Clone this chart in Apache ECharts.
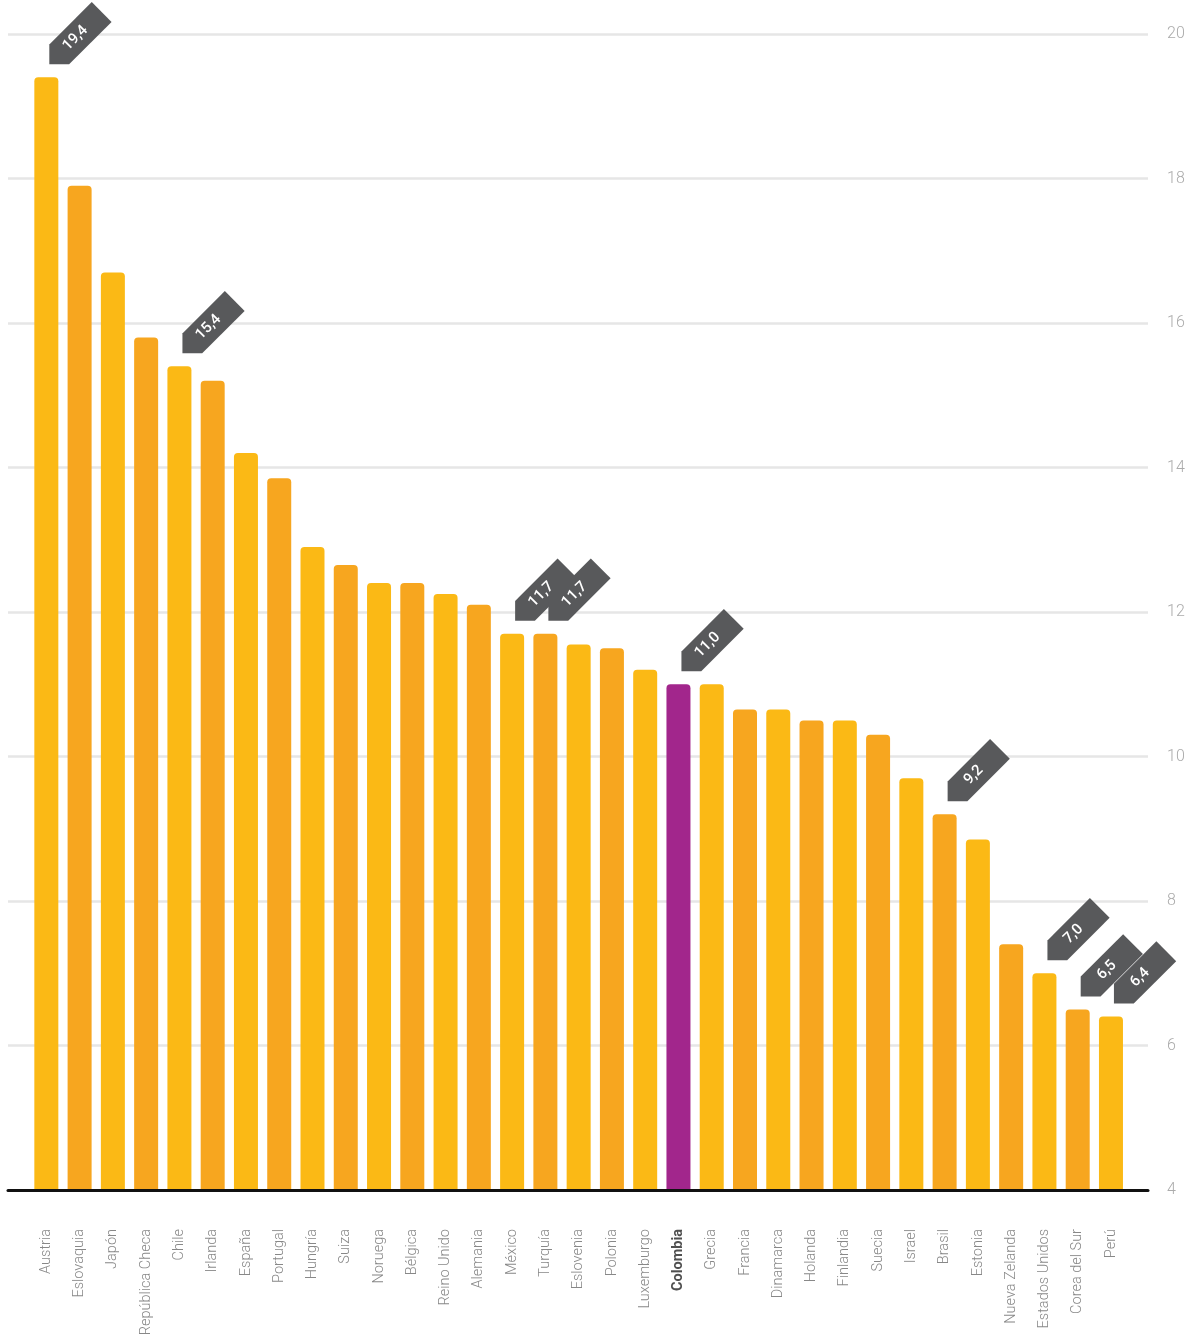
<!DOCTYPE html>
<html>
<head>
<meta charset="utf-8">
<script src="https://cdn.jsdelivr.net/npm/echarts@6/dist/echarts.min.js"></script>
<style>
  html, body { margin: 0; padding: 0; background: #ffffff; }
  #chart { width: 1196px; height: 1334px; }
</style>
</head>
<body>
<div id="chart"></div>
<script>
// Países ordenados de mayor a menor
const countries = [
  'Austria', 'Eslovaquia', 'Japón', 'República Checa', 'Chile', 'Irlanda',
  'España', 'Portugal', 'Hungría', 'Suiza', 'Noruega', 'Bélgica',
  'Reino Unido', 'Alemania', 'México', 'Turquía', 'Eslovenia', 'Polonia',
  'Luxemburgo', 'Colombia', 'Grecia', 'Francia', 'Dinamarca', 'Holanda',
  'Finlandia', 'Suecia', 'Israel', 'Brasil', 'Estonia', 'Nueva Zelanda',
  'Estados Unidos', 'Corea del Sur', 'Perú'
];

const values = [
  19.4, 17.9, 16.7, 15.8, 15.4, 15.2,
  14.2, 13.85, 12.9, 12.65, 12.4, 12.4,
  12.25, 12.1, 11.7, 11.7, 11.55, 11.5,
  11.2, 11.0, 11.0, 10.65, 10.65, 10.5,
  10.5, 10.3, 9.7, 9.2, 8.85, 7.4,
  7.0, 6.5, 6.4
];

// Países con etiqueta de valor
const tagged = [
  'Austria', 'Chile', 'México', 'Turquía', 'Colombia', 'Brasil',
  'Estados Unidos', 'Corea del Sur', 'Perú'
];

const highlight = 'Colombia';

// Eje de valores
const yMin = 4;
const yMax = 20;
const yStep = 2;

const YELLOW = '#FBB915';
const ORANGE = '#F7A61F';
const PURPLE = '#A2268C';
const TAG = '#58595B';

const barData = values.map((v, i) => ({
  value: v,
  itemStyle: {
    color: countries[i] === highlight ? PURPLE : (i % 2 === 0 ? YELLOW : ORANGE)
  }
}));

const categoryData = countries.map(c => c === highlight
  ? { value: c, textStyle: { fontWeight: 'bold', color: '#505050' } }
  : c);

const tagData = tagged.map(name => {
  const i = countries.indexOf(name);
  return [i, values[i]];
});

const fmt = v => v.toFixed(1).replace('.', ',');

const chart = echarts.init(document.getElementById('chart'), null, { renderer: 'canvas' });

chart.setOption({
  backgroundColor: '#ffffff',
  animation: false,
  grid: [
    { left: 8, right: 48, top: 34, bottom: 144, containLabel: false, outerBoundsMode: 'none' },
    { left: 29.7, right: 68.4, top: 34, bottom: 144, containLabel: false, outerBoundsMode: 'none' }
  ],
  xAxis: [
    {
      gridIndex: 0, type: 'value', min: 0, max: 1, z: 5,
      axisLine: { show: true, onZero: false, lineStyle: { color: '#111111', width: 3 } },
      axisTick: { show: false }, axisLabel: { show: false }, splitLine: { show: false }
    },
    {
      gridIndex: 1, type: 'category', data: categoryData,
      axisLine: { show: false }, axisTick: { show: false },
      axisLabel: {
        interval: 0, rotate: 90, margin: 39,
        color: '#888888', fontSize: 14.5, fontFamily: 'Roboto', fontWeight: 300
      }
    }
  ],
  yAxis: [
    {
      gridIndex: 0, type: 'value', position: 'right',
      min: yMin, max: yMax, interval: yStep,
      axisLine: { show: false }, axisTick: { show: false },
      axisLabel: { color: '#ababab', fontSize: 16, fontFamily: 'Roboto', fontWeight: 300, margin: 19 },
      splitLine: { lineStyle: { color: '#e6e6e6', width: 2.5 } }
    },
    {
      gridIndex: 1, type: 'value', min: yMin, max: yMax, interval: yStep, show: false
    }
  ],
  series: [
    {
      type: 'bar', xAxisIndex: 1, yAxisIndex: 1,
      barWidth: 24,
      itemStyle: { borderRadius: [4, 4, 0, 0] },
      data: barData
    },
    {
      // etiquetas inclinadas con el valor
      type: 'custom', xAxisIndex: 1, yAxisIndex: 1, z: 10,
      data: tagData,
      renderItem: function (params, api) {
        const p = api.coord([api.value(0), api.value(1)]);
        const h = 14, L = 74;
        return {
          type: 'group',
          x: p[0] + 3,
          y: p[1] - 13,
          rotation: Math.PI / 4,
          children: [
            {
              type: 'polygon',
              shape: { points: [[0, 0], [h, -h], [L, -h], [L, h], [h, h]] },
              style: { fill: TAG }
            },
            {
              type: 'text',
              x: 37, y: 0,
              style: {
                text: fmt(api.value(1)),
                fill: '#ffffff',
                font: '500 15px Roboto',
                align: 'center',
                verticalAlign: 'middle'
              }
            }
          ]
        };
      }
    }
  ]
});
</script>
</body>
</html>
